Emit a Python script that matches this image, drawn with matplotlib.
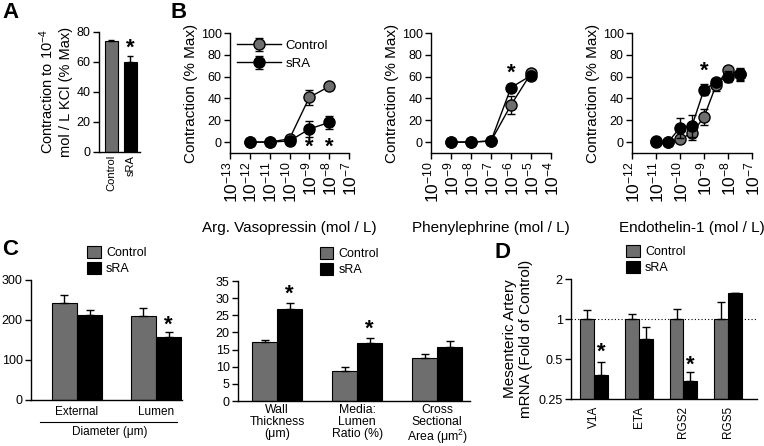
import numpy as np
import matplotlib
matplotlib.use('Agg')
import matplotlib.pyplot as plt
from matplotlib.ticker import NullLocator

plt.rcParams['font.family'] = ['Liberation Sans', 'DejaVu Sans']
plt.rcParams['mathtext.fontset'] = 'custom'
plt.rcParams['mathtext.rm'] = 'Liberation Sans'
plt.rcParams['mathtext.it'] = 'Liberation Sans:italic'

# ---- data ----
# A: KCl contraction
kcl_groups = ['Control', 'sRA']
kcl_vals = [74, 60]
kcl_err = [1, 4]

# B: concentration response curves (log10 mol/L)
avp_x = [-12, -11, -10, -9, -8]
avp_ctrl = [0, 0, 3, 41, 51]
avp_ctrl_err = [0, 0, 1, 7, 3]
avp_sra = [0, 0, 1, 12, 18]
avp_sra_err = [0, 0, 1, 7, 6]

pe_x = [-9, -8, -7, -6, -5]
pe_ctrl = [0, 0, 1, 34, 63]
pe_ctrl_err = [0, 0, 1, 8, 3]
pe_sra = [0, 0, 1, 50, 61]
pe_sra_err = [0, 0, 1, 3, 3]

et_x = [-11, -10.5, -10, -9.5, -9, -8.5, -8, -7.5]
et_ctrl = [0, 0, 3, 8, 23, 52, 66, 62]
et_ctrl_err = [1, 1, 2, 6, 7, 5, 2, 5]
et_sra = [1, 0, 13, 15, 48, 55, 60, 62]
et_sra_err = [1, 1, 9, 10, 5, 3, 5, 6]

# C: morphometry
diam_groups = ['External', 'Lumen']
diam_ctrl = [243, 210]
diam_ctrl_err = [20, 20]
diam_sra = [213, 158]
diam_sra_err = [12, 12]

wall_groups = ['Wall\nThickness\n(\u03bcm)', 'Media:\nLumen\nRatio (%)', 'Cross\nSectional\nArea (\u03bcm$^2$)']
wall_ctrl = [17.3, 8.7, 12.5]
wall_ctrl_err = [0.5, 1.2, 1.2]
wall_sra = [26.8, 17.0, 15.8]
wall_sra_err = [1.8, 1.3, 1.8]

# D: mRNA
gene_names = ['V1A', 'ETA', 'RGS2', 'RGS5']
gene_ctrl = [1, 1, 1, 1]
gene_ctrl_err = [0.17, 0.09, 0.18, 0.35]
gene_sra = [0.38, 0.71, 0.34, 1.57]
gene_sra_err = [0.095, 0.16, 0.06, 0.0]

GRAY = '#6e6e6e'
W, H = 764, 446

fig = plt.figure(figsize=(W / 100, H / 100), dpi=100)


def add_ax(l, t, r, b):
    ax = fig.add_axes([l / W, 1 - b / H, (r - l) / W, (b - t) / H])
    ax.spines['top'].set_visible(False)
    ax.spines['right'].set_visible(False)
    ax.tick_params(direction='out', length=4, width=1, labelsize=9, pad=2)
    for s in ['left', 'bottom']:
        ax.spines[s].set_linewidth(1)
    return ax


def star(ax, x, y, size=16):
    ax.text(x, y, '*', ha='center', va='center', fontsize=size, fontweight='bold')


# ---- A ----
axA = add_ax(99, 32, 140, 152)
xa = np.arange(len(kcl_groups))
axA.bar(xa, kcl_vals, width=0.72, color=[GRAY, 'black'], edgecolor='black', linewidth=0.8)
axA.errorbar(xa, kcl_vals, yerr=[[0, 0], kcl_err], fmt='none', ecolor='black', capsize=2.5, elinewidth=1)
axA.set_ylim(0, 80)
axA.set_yticks([0, 20, 40, 60, 80])
axA.set_xlim(-0.65, 1.5)
axA.set_xticks(xa)
axA.set_xticklabels(kcl_groups, rotation=90, fontsize=8)
axA.tick_params(axis='x', length=0)
axA.set_ylabel('Contraction to 10$^{-4}$\nmol / L KCl (% Max)', fontsize=10.5, labelpad=3)
star(axA, 1, 69)


# ---- B ----
def curve_panel(l, r, x, c, ce, s, se, xlo, xhi, xlabel):
    ax = add_ax(l, 33, r, 153)
    ax.errorbar(x, c, yerr=ce, color='black', lw=1, marker='o', ms=8, mfc=GRAY, mec='black',
                mew=1, capsize=3, elinewidth=1, label='Control', zorder=3)
    ax.errorbar(x, s, yerr=se, color='black', lw=1, marker='o', ms=8, mfc='black', mec='black',
                mew=1, capsize=3, elinewidth=1, label='sRA', zorder=4)
    ax.set_ylim(-10, 100)
    ax.set_yticks([0, 20, 40, 60, 80, 100])
    ax.set_xlim(xlo, xhi)
    decs = list(range(xlo, xhi + 1))
    ax.set_xticks(decs)
    ax.set_xticklabels(['$\\mathregular{10^{%d}}$' % d for d in decs], rotation=90, fontsize=12.5)
    ax.set_ylabel('Contraction (% Max)', fontsize=11, labelpad=2)
    ax.set_xlabel(xlabel, fontsize=11, labelpad=13)
    return ax


axB1 = curve_panel(230, 349, avp_x, avp_ctrl, avp_ctrl_err, avp_sra, avp_sra_err, -13, -7,
                   'Arg. Vasopressin (mol / L)')
axB1.legend(loc='upper left', bbox_to_anchor=(0.0, 1.0), frameon=False, fontsize=9.5,
            handlelength=3.4, labelspacing=0.45, borderaxespad=0.1, handletextpad=0.3)
star(axB1, -9, -5)
star(axB1, -8, -5)

axB2 = curve_panel(431, 551, pe_x, pe_ctrl, pe_ctrl_err, pe_sra, pe_sra_err, -10, -4,
                   'Phenylephrine (mol / L)')
star(axB2, -6, 63)

axB3 = curve_panel(632, 752, et_x, et_ctrl, et_ctrl_err, et_sra, et_sra_err, -12, -7,
                   'Endothelin-1 (mol / L)')
star(axB3, -9, 65)


# ---- C ----
def bar_panel(ax, names, c, ce, s, se, w=0.31):
    x = np.arange(len(names))
    ax.bar(x - w / 2, c, width=w, color=GRAY, edgecolor='black', linewidth=0.8, label='Control')
    ax.bar(x + w / 2, s, width=w, color='black', edgecolor='black', linewidth=0.8, label='sRA')
    ax.errorbar(x - w / 2, c, yerr=[np.zeros(len(c)), ce], fmt='none', ecolor='black',
                capsize=3, elinewidth=1)
    ax.errorbar(x + w / 2, s, yerr=[np.zeros(len(s)), se], fmt='none', ecolor='black',
                capsize=3, elinewidth=1)
    ax.set_xticks(x)
    ax.set_xticklabels(names, fontsize=8.5)
    ax.tick_params(axis='x', length=0, pad=4)
    return x


legend_kw = dict(loc='lower left', frameon=False, fontsize=9, handlelength=1.1, handleheight=1.1,
                 labelspacing=0.2, handletextpad=0.4, borderaxespad=0)

axC1 = add_ax(31, 280, 182, 400)
xc1 = bar_panel(axC1, diam_groups, diam_ctrl, diam_ctrl_err, diam_sra, diam_sra_err, w=0.32)
axC1.set_ylim(0, 300)
axC1.set_yticks([0, 100, 200, 300])
axC1.set_xlim(-0.58, 1.33)
star(axC1, 1.16, 188)
axC1.plot([0.06, 0.97], [-0.18, -0.18], transform=axC1.transAxes, color='black', lw=0.8, clip_on=False)
axC1.text(0.52, -0.27, 'Diameter (\u03bcm)', transform=axC1.transAxes, ha='center', va='center',
          fontsize=8.5)
axC1.legend(bbox_to_anchor=(0.34, 1.0), **legend_kw)

axC2 = add_ax(238, 281, 470, 401)
xc2 = bar_panel(axC2, wall_groups, wall_ctrl, wall_ctrl_err, wall_sra, wall_sra_err)
axC2.set_ylim(0, 35)
axC2.set_yticks(range(0, 36, 5))
axC2.set_xlim(-0.49, 2.41)
for t in axC2.get_xticklabels():
    t.set_fontsize(8.8)
    t.set_linespacing(1.0)
axC2.tick_params(axis='x', pad=2)
star(axC2, 0.155, 31)
star(axC2, 1.155, 21)
axC2.legend(bbox_to_anchor=(0.33, 1.0), **legend_kw)

# ---- D ----
axD = add_ax(571, 279, 757, 399)
xd = np.arange(len(gene_names))
w = 0.31
axD.set_yscale('log', base=2)
axD.bar(xd - w / 2, np.array(gene_ctrl) - 0.25, bottom=0.25, width=w, color=GRAY, edgecolor='black',
        linewidth=0.8, label='Control')
axD.bar(xd + w / 2, np.array(gene_sra) - 0.25, bottom=0.25, width=w, color='black', edgecolor='black',
        linewidth=0.8, label='sRA')
axD.errorbar(xd - w / 2, gene_ctrl, yerr=[np.zeros(4), gene_ctrl_err], fmt='none', ecolor='black',
             capsize=3, elinewidth=1)
axD.errorbar(xd + w / 2, gene_sra, yerr=[np.zeros(4), gene_sra_err], fmt='none', ecolor='black',
             capsize=3, elinewidth=1)
axD.axhline(1, color='black', lw=0.8, ls=(0, (1, 2)), zorder=0)
axD.set_ylim(0.25, 2)
axD.set_yticks([0.25, 0.5, 1, 2])
axD.set_yticklabels(['0.25', '0.5', '1', '2'])
axD.yaxis.set_minor_locator(NullLocator())
axD.set_xlim(-0.51, 3.64)
axD.set_xticks(xd)
axD.set_xticklabels(gene_names, rotation=90, fontsize=8.5)
axD.tick_params(axis='x', length=0, pad=5)
axD.set_ylabel('Mesenteric Artery\nmRNA (Fold of Control)', fontsize=11, labelpad=4)
star(axD, w / 2, 0.56)
star(axD, 2 + w / 2, 0.45)
axD.legend(bbox_to_anchor=(0.27, 1.0), **legend_kw)

# ---- panel letters ----
for letter, (px, py) in {'A': (2, 12), 'B': (170, 12), 'C': (2, 250), 'D': (494, 252)}.items():
    fig.text(px / W, 1 - py / H, letter, fontsize=16, fontweight='bold', ha='left', va='center')

fig.savefig('out.png', dpi=100)
